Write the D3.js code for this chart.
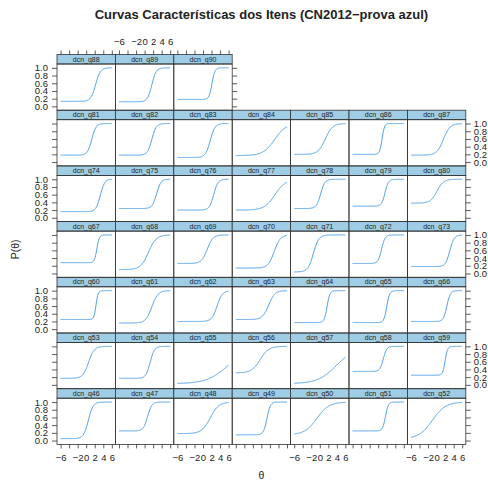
<!DOCTYPE html>
<html>
<head>
<meta charset="utf-8">
<script src="https://cdn.jsdelivr.net/npm/d3@7"></script>
<style>
  body { margin: 0; background: #fff; }
  text { font-family: "Liberation Sans", Arial, sans-serif; fill: #222; }
</style>
</head>
<body>
<svg id="chart" width="488" height="482"></svg>
<script>
const ITEMS = ["dcn_q46","dcn_q47","dcn_q48","dcn_q49","dcn_q50","dcn_q51","dcn_q52",
               "dcn_q53","dcn_q54","dcn_q55","dcn_q56","dcn_q57","dcn_q58","dcn_q59",
               "dcn_q60","dcn_q61","dcn_q62","dcn_q63","dcn_q64","dcn_q65","dcn_q66",
               "dcn_q67","dcn_q68","dcn_q69","dcn_q70","dcn_q71","dcn_q72","dcn_q73",
               "dcn_q74","dcn_q75","dcn_q76","dcn_q77","dcn_q78","dcn_q79","dcn_q80",
               "dcn_q81","dcn_q82","dcn_q83","dcn_q84","dcn_q85","dcn_q86","dcn_q87",
               "dcn_q88","dcn_q89","dcn_q90"]
const SLOPE    = [1.8, 2.0, 1.0, 2.5, 0.7, 3.0, 0.65,
                  1.5, 2.0, 0.4, 1.0, 0.45, 2.5, 3.5,
                  4.0, 1.4, 1.6, 1.4, 3.0, 3.0, 2.5,
                  3.5, 1.1, 1.5, 1.4, 1.6, 2.5, 2.0,
                  2.0, 2.0, 2.0, 0.8, 2.0, 2.5, 1.3,
                  2.0, 2.0, 1.8, 0.75, 1.2, 3.5, 1.3,
                  1.8, 2.0, 3.0]
const LOCATION = [0.5, 0.7, 1.7, 1.3, -0.7, 1.7, -1.0,
                  0.55, 1.3, 6.0, -0.3, 4.0, 1.2, 2.0,
                  2.3, 1.7, 3.3, 1.7, 1.7, 2.0, 2.4,
                  2.5, 0.9, 1.0, 3.0, -1.5, 0.8, 3.1,
                  3.3, 2.8, 2.5, 3.2, 0.2, 1.6, 0.1,
                  1.3, 1.7, 1.7, 3.1, 1.3, 0.9, 1.6,
                  2.2, 1.7, 2.1]
const GUESS    = [0.05, 0.25, 0.18, 0.15, 0.15, 0.25, 0.05,
                  0.17, 0.17, 0.03, 0.31, 0.03, 0.35, 0.25,
                  0.25, 0.16, 0.20, 0.25, 0.17, 0.17, 0.20,
                  0.28, 0.10, 0.26, 0.14, 0.04, 0.26, 0.18,
                  0.16, 0.24, 0.20, 0.20, 0.24, 0.30, 0.38,
                  0.18, 0.18, 0.12, 0.17, 0.20, 0.20, 0.18,
                  0.13, 0.12, 0.18]
const THETA = d3.range(-6, 6.0001, 0.1)
const X_TICKS = [-6, -4, -2, 0, 2, 4, 6]
const X_LABELS = ["\u22126", "", "\u22122", "0", "2", "4", "6"]   // -4 is lost to overlap in the original
const Y_TICKS = [0, 0.2, 0.4, 0.6, 0.8, 1.0]

const TITLE = "Curvas Características dos Itens (CN2012\u2212prova azul)"

// layout
const gridLeft = 57, gridTop = 54.5, colW = 58.4, rowH = 55.7, stripH = 9.5
const ncol = 7, nrow = 7

const svg = d3.select("#chart")

const x = d3.scaleLinear().domain([-6.84, 6.84]).range([0, colW])
const y = d3.scaleLinear().domain([-0.1, 1.1]).range([rowH - stripH, 0])

const line = d3.line()
  .x(function(d){ return x(d[0]) })
  .y(function(d){ return y(d[1]) })

const panels = ITEMS.map(function(name, i){
  return {name: name, a: SLOPE[i], b: LOCATION[i], c: GUESS[i],
          col: i % ncol, row: nrow - 1 - Math.floor(i / ncol)}
})

const cell = svg.selectAll(".cell")
  .data(panels)
  .enter()
  .append("g")
    .attr("class", "cell")
    .attr("transform", function(d){
      return "translate(" + (gridLeft + d.col * colW) + "," + (gridTop + d.row * rowH) + ")"
    })

// strip
cell.append("rect")
  .attr("width", colW)
  .attr("height", stripH)
  .attr("fill", "#9fcde5")
  .attr("stroke", "#333")
  .attr("stroke-width", 0.8)

cell.append("text")
  .attr("x", colW / 2)
  .attr("y", stripH - 2.3)
  .attr("text-anchor", "middle")
  .style("font-size", "7px")
  .text(function(d){ return d.name })

// panel
const body = cell.append("g")
  .attr("transform", "translate(0," + stripH + ")")

body.append("path")
  .attr("fill", "none")
  .attr("stroke", "#4d9fea")
  .attr("stroke-width", 1)
  .attr("d", function(d){
    return line(THETA.map(function(t){
      return [t, d.c + (1 - d.c) / (1 + Math.exp(-d.a * (t - d.b)))]
    }))
  })

body.append("rect")
  .attr("width", colW)
  .attr("height", rowH - stripH)
  .attr("fill", "none")
  .attr("stroke", "#333")
  .attr("stroke-width", 0.8)

// axes
function styleAxis(g){
  g.select(".domain").remove()
  g.selectAll(".tick line").attr("stroke", "#333").attr("stroke-width", 0.8)
  g.selectAll(".tick text").style("font-size", "9.5px").attr("fill", "#222")
}

for (let r = 0; r < nrow; r++) {
  const ncells = r === 0 ? 3 : ncol
  const yTop = gridTop + r * rowH + stripH
  svg.append("g")
    .attr("transform", "translate(" + gridLeft + "," + yTop + ")")
    .call(d3.axisLeft(y).tickValues(Y_TICKS).tickSize(5).tickPadding(4)
      .tickFormat(r % 2 === 0 ? d3.format(".1f") : ""))
    .call(styleAxis)
  svg.append("g")
    .attr("transform", "translate(" + (gridLeft + ncells * colW) + "," + yTop + ")")
    .call(d3.axisRight(y).tickValues(Y_TICKS).tickSize(5).tickPadding(3)
      .tickFormat(r % 2 === 1 ? d3.format(".1f") : ""))
    .call(styleAxis)
}

for (let c = 0; c < ncol; c++) {
  svg.append("g")
    .attr("transform", "translate(" + (gridLeft + c * colW) + "," + (gridTop + nrow * rowH) + ")")
    .call(d3.axisBottom(x).tickValues(X_TICKS).tickSize(4).tickPadding(6)
      .tickFormat(function(d, i){ return c % 2 === 0 ? X_LABELS[i] : "" }))
    .call(styleAxis)
  if (c < 3) {
    svg.append("g")
      .attr("transform", "translate(" + (gridLeft + c * colW) + "," + gridTop + ")")
      .call(d3.axisTop(x).tickValues(X_TICKS).tickSize(4).tickPadding(6)
        .tickFormat(function(d, i){ return c === 1 ? X_LABELS[i] : "" }))
      .call(styleAxis)
  }
}

// titles
svg.append("text")
  .attr("x", gridLeft + ncol * colW / 2)
  .attr("y", 19)
  .attr("text-anchor", "middle")
  .style("font-size", "13px")
  .style("font-weight", "bold")
  .text(TITLE)

svg.append("text")
  .attr("x", gridLeft + ncol * colW / 2)
  .attr("y", 479)
  .attr("text-anchor", "middle")
  .style("font-size", "10.5px")
  .text("\u03b8")

svg.append("text")
  .attr("transform", "translate(19," + (gridTop + nrow * rowH / 2) + ") rotate(-90)")
  .attr("text-anchor", "middle")
  .style("font-size", "10.5px")
  .text("P(\u03b8)")
</script>
</body>
</html>
